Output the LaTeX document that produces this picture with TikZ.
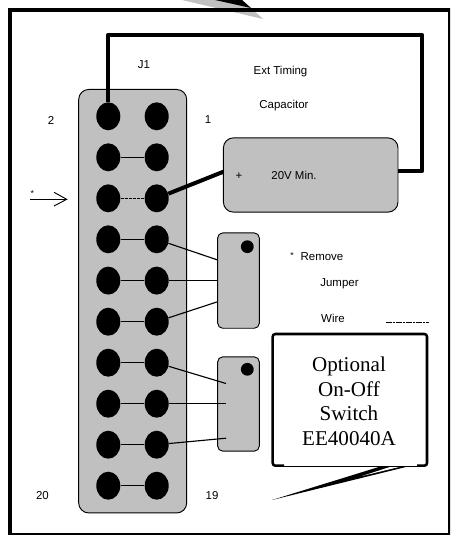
\documentclass[tikz,border=0pt]{standalone}
\usepackage{fontspec}
\setmainfont{Liberation Sans}
\newfontfamily\serifbox{Liberation Serif}
\usetikzlibrary{shapes.geometric}
\definecolor{panel}{RGB}{192,192,192}
\tikzset{
 x=0.75pt,y=-0.75pt,
 pin/.style={ellipse,fill=black,draw=none,inner sep=0pt,minimum width=18pt,minimum height=21pt},
 dot/.style={circle,fill=black,draw=none,inner sep=0pt,minimum size=9.6pt},
 board/.style={draw=black,fill=panel,line width=0.7pt,rounded corners=7.5pt,inner sep=0pt},
 swbox/.style={draw=black,fill=panel,line width=0.7pt,rounded corners=3.75pt,inner sep=0pt,minimum width=31.2pt},
 lab/.style={font=\fontsize{8.6pt}{10pt}\selectfont,inner sep=0pt,text=black},
 wire/.style={line width=0.85pt},
 heavy/.style={line width=2.8pt,line join=round},
}
\begin{document}
\begin{tikzpicture}
\useasboundingbox (0,0) rectangle (450,535);
\clip (0,0) rectangle (450,535);
% callout wedge, top
\fill[panel] (182,0) -- (263,19) -- (251,8) -- (242,0) -- cycle;
\fill[black] (215,0) -- (251,8) -- (242,0) -- cycle;
% frame
\draw[line width=3pt] (9.5,10) rectangle (450,535);
% boards
\node[board,minimum width=81pt,minimum height=317.6pt] (conn) at (132.7,301.2) {};
\node[board,minimum width=130.9pt,minimum height=55.7pt] (cap) at (310.7,175) {};
\node[swbox,minimum height=71.5pt] (swa) at (238.5,280.6) {};
\node[swbox,minimum height=70.7pt] (swb) at (238.5,404) {};
\foreach \n/\yy in {1/116.3,2/157.3,3/198.3,4/239.3,5/280.6,6/321.7,7/362.7,8/403.7,9/444.7,10/485.7}{
  \node[pin] (L\n) at (108.3,\yy) {};
  \node[pin] (R\n) at (156.7,\yy) {};
}
\node[dot] (dota) at (247.3,246.7) {};
\node[dot] (dotb) at (247.3,369.3) {};
\foreach \n in {2,4,5,6,7,8,9,10}{\draw[wire] (L\n) -- (R\n);}
\draw[wire,dash pattern=on 2.2pt off 0.9pt] (L3) -- (R3);
\coordinate (A1) at (217.7,260); \coordinate (A2) at (217.7,280.6); \coordinate (A3) at (217.7,301.7);
\coordinate (B1) at (226,383.5); \coordinate (B2) at (226,403.7); \coordinate (B3) at (226,438.2);
\draw[wire] (R4) -- (A1);
\draw[wire] (R5) -- (A2);
\draw[wire] (R6) -- (A3);
\draw[wire] (R7) -- (B1);
\draw[wire] (R8) -- (B2);
\draw[wire] (R9) -- (B3);
% heavy wires
\coordinate (c1) at (108.3,34.7);
\coordinate (c2) at (422.3,34.7);
\coordinate (c3) at (422.3,171.3);
\coordinate (c4) at (398,171.3);
\coordinate (c5) at (223.5,171.7);
\draw[heavy] (L1) -- (c1) -- (c2) -- (c3) -- (c4);
\draw[line width=3pt] (R3) -- (c5);
% arrow
\coordinate (a0) at (30,199.3);
\coordinate (a1) at (66.7,199.3);
\draw[line width=0.7pt] (a0) -- (a1);
\draw[line width=0.7pt] (54,192.3) -- (a1) -- (54,206);
% labels
\node[lab] (j1) at (144,65) {J1};
\node[lab] (n2) at (51,120) {2};
\node[lab] (n1) at (208,120) {1};
\node[lab] (n20) at (42.5,496) {20};
\node[lab] (n19) at (212,496) {19};
\node[lab,font=\fontsize{6.5pt}{8pt}\selectfont] (ast) at (32.3,193.5) {*};
\node[lab] (t1) at (280.5,72) {Ext Timing};
\node[lab] (t2) at (284,106) {Capacitor};
\node[lab] (plus) at (239,176) {+};
\node[lab] (v) at (294,175) {20V Min.};
\node[lab,font=\fontsize{6.5pt}{8pt}\selectfont] (r0) at (292,255.5) {*};
\node[lab] (r1) at (322,257) {Remove};
\node[lab] (r3) at (339.5,284) {Jumper};
\node[lab] (r4) at (333,318) {Wire};
\coordinate (d0) at (386,322);
\coordinate (d1) at (429,322);
\draw[line width=0.7pt,dash pattern=on 2pt off 0.5pt] (d0) -- (d1);
% switch callout
\fill (382,466) -- (410,466) -- (272,500) -- cycle;
\fill[white] (392,466.3) -- (402,466.3) -- (362,476) -- cycle;
\draw[line width=0.7pt] (284,466) -- (417,466);
\draw[line width=1.9pt,rounded corners=2pt] (284,465.7) -- (272.7,465.7) -- (272.7,334) -- (427,334) -- (427,465.7) -- (417,465.7);
\node[align=center,font=\serifbox\fontsize{15.8pt}{18.4pt}\selectfont,inner sep=0pt] (sw) at (349,401.5) {Optional\\On-Off\\Switch\\EE40040A};
\end{tikzpicture}
\end{document}
